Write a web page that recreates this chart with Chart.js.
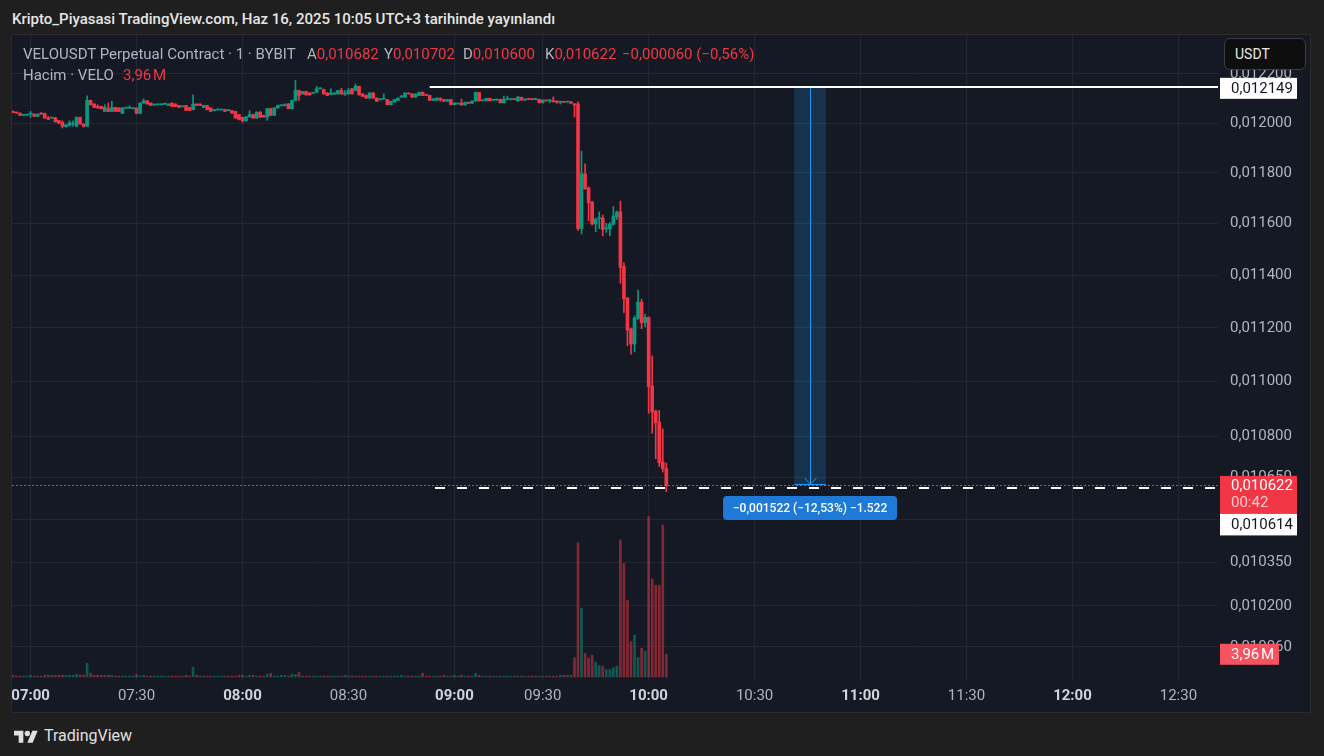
<!DOCTYPE html>
<html lang="tr">
<head>
<meta charset="utf-8">
<title>VELOUSDT Perpetual Contract</title>
<script src="https://cdn.jsdelivr.net/npm/chart.js@4/dist/chart.umd.min.js"></script>
<style>
  html, body { margin:0; padding:0; width:1324px; height:756px; overflow:hidden; background:#1f1f1f;
    font-family: Roboto, "Noto Sans", "Liberation Sans", sans-serif; }
  #title { position:absolute; left:12px; top:10px; font-size:15px; font-weight:500; color:#e6e6e6; line-height:18px; white-space:nowrap; }
  #frame { position:absolute; left:11px; top:34px; width:1298px; height:677px; border:1px solid #2c2c2c; background:#151924; }
  #cv { position:absolute; left:12px; top:35px; }
  .leg { position:absolute; font-size:15px; line-height:18px; white-space:nowrap; color:#b2b5be; }
  .red { color:#f23645; }
  #usdt { position:absolute; left:1224px; top:38px; width:82px; height:32px; box-sizing:border-box; border:1px solid #3a3d47;
    border-radius:6px; background:#0e0e0e; color:#e8e8e8; font-size:14px; line-height:30px; padding-left:10px; }
  #logo { position:absolute; left:14px; top:725px; height:20px; display:flex; align-items:center; color:#e0e0e0; font-size:16px; }
  #logo svg { margin-right:6px; }
</style>
</head>
<body>
<div id="title">Kripto_Piyasasi TradingView.com, Haz 16, 2025 10:05 UTC+3 tarihinde yayınlandı</div>
<div id="frame"></div>
<canvas id="cv" width="1298" height="677"></canvas>
<div class="leg" style="left:23px;top:45px">VELOUSDT Perpetual Contract · 1 · BYBIT</div>
<div class="leg" style="left:307px;top:45px">A<span class="red" id="lo"></span></div>
<div class="leg" style="left:384px;top:45px">Y<span class="red" id="lh"></span></div>
<div class="leg" style="left:463px;top:45px">D<span class="red" id="ll"></span></div>
<div class="leg" style="left:545px;top:45px">K<span class="red" id="lc"></span></div>
<div class="leg red" style="left:622px;top:45px" id="lchg"></div>
<div class="leg" style="left:23px;top:66px">Hacim · VELO</div>
<div class="leg red" style="left:123px;top:66px" id="lvol"></div>
<div id="usdt">USDT</div>
<div id="logo"><svg width="24" height="15" viewBox="0 0 36 22"><path fill="#e0e0e0" d="M14 22H7V11H0V4h14v18zM28 22h-8l7.5-18h8z"/><circle cx="20" cy="8" r="4" fill="#e0e0e0"/></svg>TradingView</div>
<script>
// ---- 1-minute candles, 06:55 .. 10:05 (bar index 0..185) ----
const open = [
0.012047,0.012044,0.012040,0.012031,0.012032,0.012036,0.012036,0.012027,0.012040,0.012038,
0.012020,0.012020,0.012021,0.012010,0.012003,0.011985,0.011990,0.011996,0.011987,0.012023,
0.011996,0.011987,0.012092,0.012077,0.012067,0.012067,0.012047,0.012058,0.012047,0.012063,
0.012061,0.012039,0.012060,0.012060,0.012058,0.012061,0.012039,0.012081,0.012090,0.012081,
0.012073,0.012074,0.012074,0.012076,0.012071,0.012081,0.012077,0.012071,0.012066,0.012071,
0.012063,0.012054,0.012077,0.012077,0.012063,0.012071,0.012061,0.012050,0.012053,0.012053,
0.012054,0.012050,0.012050,0.012047,0.012034,0.012023,0.012009,0.012025,0.012034,0.012020,
0.012044,0.012031,0.012024,0.012058,0.012031,0.012061,0.012070,0.012070,0.012078,0.012058,
0.012092,0.012132,0.012118,0.012128,0.012122,0.012121,0.012125,0.012139,0.012136,0.012122,
0.012116,0.012117,0.012118,0.012132,0.012117,0.012118,0.012139,0.012132,0.012149,0.012118,
0.012112,0.012101,0.012122,0.012101,0.012094,0.012097,0.012095,0.012074,0.012085,0.012092,
0.012105,0.012105,0.012121,0.012118,0.012105,0.012112,0.012125,0.012114,0.012112,0.012092,
0.012092,0.012101,0.012095,0.012088,0.012095,0.012074,0.012077,0.012080,0.012073,0.012084,
0.012080,0.012089,0.012124,0.012090,0.012090,0.012100,0.012092,0.012093,0.012096,0.012082,
0.012095,0.012095,0.012096,0.012090,0.012104,0.012093,0.012097,0.012096,0.012095,0.012096,
0.012082,0.012091,0.012089,0.012089,0.012089,0.012084,0.012085,0.012085,0.012086,0.012077,
0.012077,0.011581,0.011796,0.011741,0.011685,0.011599,0.011620,0.011622,0.011580,0.011580,
0.011597,0.011627,0.011646,0.011434,0.011313,0.011197,0.011140,0.011236,0.011298,0.011220,
0.011240,0.010983,0.010890,0.010851,0.010706,0.010682];
const high = [
0.012049,0.012045,0.012041,0.012033,0.012033,0.012047,0.012037,0.012037,0.012042,0.012040,
0.012027,0.012023,0.012023,0.012011,0.012009,0.011993,0.012009,0.012009,0.012025,0.012024,
0.011997,0.012110,0.012093,0.012078,0.012074,0.012068,0.012074,0.012081,0.012088,0.012064,
0.012062,0.012062,0.012062,0.012070,0.012060,0.012062,0.012082,0.012098,0.012091,0.012082,
0.012075,0.012075,0.012076,0.012078,0.012078,0.012082,0.012078,0.012072,0.012068,0.012072,
0.012064,0.012114,0.012078,0.012078,0.012072,0.012072,0.012062,0.012055,0.012055,0.012055,
0.012055,0.012055,0.012051,0.012048,0.012035,0.012024,0.012027,0.012050,0.012036,0.012045,
0.012046,0.012032,0.012059,0.012060,0.012063,0.012073,0.012073,0.012078,0.012079,0.012093,
0.012173,0.012134,0.012129,0.012130,0.012123,0.012123,0.012149,0.012143,0.012138,0.012123,
0.012139,0.012123,0.012133,0.012141,0.012132,0.012141,0.012141,0.012159,0.012150,0.012119,
0.012113,0.012123,0.012123,0.012102,0.012099,0.012118,0.012096,0.012089,0.012096,0.012102,
0.012112,0.012123,0.012122,0.012119,0.012119,0.012126,0.012126,0.012115,0.012113,0.012099,
0.012102,0.012102,0.012096,0.012096,0.012096,0.012083,0.012081,0.012097,0.012085,0.012085,
0.012090,0.012126,0.012125,0.012094,0.012101,0.012101,0.012094,0.012097,0.012097,0.012109,
0.012109,0.012097,0.012097,0.012107,0.012105,0.012098,0.012098,0.012097,0.012101,0.012097,
0.012094,0.012092,0.012096,0.012106,0.012090,0.012089,0.012086,0.012088,0.012087,0.012080,
0.012086,0.011887,0.011836,0.011745,0.011688,0.011622,0.011646,0.011634,0.011601,0.011605,
0.011667,0.011650,0.011689,0.011448,0.011316,0.011200,0.011245,0.011344,0.011309,0.011253,
0.011242,0.011095,0.010895,0.010894,0.010826,0.010702];
const low = [
0.012042,0.012040,0.012031,0.012030,0.012031,0.012023,0.012027,0.012026,0.012035,0.012019,
0.012014,0.012019,0.012004,0.011998,0.011980,0.011983,0.011988,0.011987,0.011985,0.011995,
0.011983,0.011985,0.012073,0.012062,0.012060,0.012057,0.012046,0.012046,0.012046,0.012046,
0.012046,0.012038,0.012059,0.012059,0.012057,0.012038,0.012038,0.012080,0.012076,0.012070,
0.012072,0.012073,0.012073,0.012075,0.012070,0.012066,0.012066,0.012062,0.012065,0.012050,
0.012050,0.012053,0.012070,0.012070,0.012062,0.012053,0.012046,0.012049,0.012052,0.012052,
0.012046,0.012049,0.012039,0.012019,0.012013,0.012003,0.012007,0.012023,0.012019,0.012018,
0.012022,0.012023,0.012011,0.012030,0.012030,0.012060,0.012069,0.012069,0.012057,0.012057,
0.012090,0.012092,0.012117,0.012113,0.012113,0.012120,0.012124,0.012138,0.012117,0.012111,
0.012115,0.012116,0.012117,0.012117,0.012112,0.012117,0.012117,0.012131,0.012113,0.012107,
0.012100,0.012100,0.012100,0.012087,0.012093,0.012096,0.012073,0.012073,0.012084,0.012091,
0.012104,0.012104,0.012117,0.012104,0.012104,0.012111,0.012111,0.012111,0.012091,0.012091,
0.012091,0.012088,0.012087,0.012087,0.012073,0.012073,0.012076,0.012072,0.012072,0.012079,
0.012079,0.012088,0.012089,0.012089,0.012089,0.012089,0.012091,0.012092,0.012081,0.012081,
0.012094,0.012094,0.012094,0.012089,0.012092,0.012092,0.012095,0.012094,0.012094,0.012081,
0.012081,0.012089,0.012082,0.012085,0.012080,0.012077,0.012083,0.012084,0.012079,0.012024,
0.011573,0.011560,0.011735,0.011612,0.011595,0.011569,0.011581,0.011553,0.011566,0.011553,
0.011595,0.011617,0.011370,0.011258,0.011133,0.011102,0.011110,0.011232,0.011197,0.011205,
0.010883,0.010810,0.010718,0.010690,0.010670,0.010600];
const close = [
0.012042,0.012040,0.012031,0.012032,0.012033,0.012037,0.012027,0.012036,0.012036,0.012020,
0.012015,0.012021,0.012005,0.011999,0.011987,0.011993,0.012000,0.011998,0.012023,0.011996,
0.011987,0.012092,0.012074,0.012063,0.012061,0.012058,0.012063,0.012047,0.012063,0.012047,
0.012047,0.012061,0.012061,0.012061,0.012059,0.012039,0.012081,0.012090,0.012077,0.012071,
0.012074,0.012075,0.012075,0.012077,0.012077,0.012067,0.012067,0.012063,0.012067,0.012051,
0.012051,0.012077,0.012071,0.012071,0.012071,0.012054,0.012047,0.012054,0.012054,0.012054,
0.012047,0.012054,0.012040,0.012020,0.012014,0.012009,0.012025,0.012034,0.012020,0.012044,
0.012024,0.012024,0.012058,0.012031,0.012061,0.012071,0.012071,0.012072,0.012058,0.012092,
0.012132,0.012112,0.012128,0.012114,0.012114,0.012122,0.012139,0.012141,0.012118,0.012112,
0.012122,0.012122,0.012132,0.012118,0.012122,0.012132,0.012118,0.012149,0.012114,0.012108,
0.012101,0.012122,0.012101,0.012088,0.012098,0.012098,0.012074,0.012088,0.012095,0.012101,
0.012109,0.012122,0.012118,0.012105,0.012118,0.012125,0.012112,0.012112,0.012092,0.012098,
0.012101,0.012095,0.012088,0.012095,0.012074,0.012081,0.012080,0.012073,0.012084,0.012080,
0.012089,0.012124,0.012090,0.012093,0.012100,0.012090,0.012093,0.012096,0.012082,0.012096,
0.012096,0.012096,0.012095,0.012106,0.012093,0.012097,0.012096,0.012095,0.012097,0.012082,
0.012093,0.012090,0.012090,0.012086,0.012084,0.012085,0.012084,0.012086,0.012080,0.012073,
0.011581,0.011796,0.011738,0.011682,0.011599,0.011617,0.011623,0.011578,0.011582,0.011599,
0.011630,0.011646,0.011431,0.011311,0.011192,0.011140,0.011238,0.011298,0.011220,0.011240,
0.010981,0.010888,0.010849,0.010704,0.010682,0.010622];
// volume in millions of VELO
const volume = [
0.3,0.15,0.15,0.15,0.15,0.3,0.15,0.15,0.15,0.3,
0.3,0.3,0.3,0.3,0.3,0.3,0.3,0.3,0.5,0.35,
0.35,2.4,0.64,0.3,0.3,0.3,0.3,0.3,0.3,0.15,
0.15,0.15,0.15,0.15,0.15,0.45,0.15,0.3,0.15,0.15,
0.15,0.15,0.15,0.15,0.15,0.15,0.15,0.15,0.15,0.3,
0.15,1.7,0.3,0.15,0.15,0.15,0.15,0.15,0.15,0.15,
0.15,0.15,0.15,0.15,0.3,0.3,0.15,0.3,0.3,0.15,
0.15,0.15,0.45,0.64,0.15,0.15,0.3,0.3,0.15,0.45,
0.45,0.8,0.15,0.15,0.15,0.15,0.15,0.15,0.15,0.15,
0.15,0.15,0.15,0.15,0.3,0.15,0.15,0.15,0.15,0.15,
0.15,0.15,0.15,0.15,0.15,0.15,0.15,0.15,0.15,0.15,
0.3,0.15,0.15,0.15,0.15,0.15,0.64,0.15,0.15,0.15,
0.15,0.15,0.3,0.15,0.15,0.3,0.15,0.3,0.15,0.15,
0.15,0.64,0.3,0.15,0.15,0.15,0.15,0.15,0.15,0.15,
0.15,0.15,0.15,0.15,0.15,0.15,0.15,0.15,0.15,0.15,
0.15,0.15,0.15,0.15,0.15,0.3,0.3,0.3,0.3,3.4,
23.4,12.0,4.1,3.3,3.8,2.6,2.0,1.9,1.3,1.3,
1.6,1.9,23.9,19.8,13.4,6.2,7.3,3.4,5.0,4.5,
28.0,17.1,16.0,16.0,26.5,3.96];

// time axis: bar index of each label (one-minute bars, five bars missing between 09:00 and 09:30)
const timeTickIndex  = [5, 35, 65, 95, 125, 150, 180, 210, 240, 270, 300, 330];
const timeTickLabels = ['07:00','07:30','08:00','08:30','09:00','09:30','10:00','10:30','11:00','11:30','12:00','12:30'];
// price axis tick values
const priceTicks = [0.0122, 0.012, 0.0118, 0.0116, 0.0114, 0.0112, 0.011, 0.0108, 0.01065, 0.0105, 0.01035, 0.0102, 0.01006];

// drawings on the chart
const hLineTop = 0.012149;
const hLineBottom = 0.010614;
const measureFrom = 0.012149;
const measureTo = 0.010627;
const measureText = '\u22120,001522 (\u221212,53%) \u22121.522';
const countdown = '00:42';

// ---- layout / style (not data) ----
const FONT = 'Roboto, "Noto Sans", sans-serif';
const GREEN = '#089981', RED = '#f23645';
const GRID = '#232734';
const view = { xMin: -0.267, xMax: 341.21, yMin: 0.0099453, yMax: 0.0123608, vMin: -0.7, vMax: 112 };
const draw = { topLineFrom: 118, bottomLineFrom: 119.5, measureBarFrom: 221.2, measureBarTo: 230.2 };

const fmt = v => v.toFixed(6).replace('.', ',');
const minus = s => s.replace('-', '\u2212');
const last = close.length - 1;
document.getElementById('lo').textContent = fmt(open[last]);
document.getElementById('lh').textContent = fmt(high[last]);
document.getElementById('ll').textContent = fmt(low[last]);
document.getElementById('lc').textContent = fmt(close[last]);
const chg = close[last] - close[last - 1];
document.getElementById('lchg').textContent =
  minus(fmt(chg)) + ' (' + minus((chg / close[last - 1] * 100).toFixed(2).replace('.', ',')) + '%)';
const volText = volume[last].toFixed(2).replace('.', ',') + '\u202fM';
document.getElementById('lvol').textContent = volText;

const isUp = close.map((c, i) => c >= open[i]);
const candleColors = isUp.map(u => u ? GREEN : RED);
const volColors = isUp.map(u => u ? 'rgba(8,153,129,0.5)' : 'rgba(242,54,69,0.5)');

function roundRect(ctx, x, y, w, h, r) {
  ctx.beginPath();
  ctx.moveTo(x + r, y); ctx.lineTo(x + w - r, y); ctx.quadraticCurveTo(x + w, y, x + w, y + r);
  ctx.lineTo(x + w, y + h - r); ctx.quadraticCurveTo(x + w, y + h, x + w - r, y + h);
  ctx.lineTo(x + r, y + h); ctx.quadraticCurveTo(x, y + h, x, y + h - r);
  ctx.lineTo(x, y + r); ctx.quadraticCurveTo(x, y, x + r, y);
  ctx.closePath();
}

const bgPlugin = {
  id: 'bg',
  beforeDraw(chart) {
    const c = chart.ctx; c.save(); c.fillStyle = '#151924'; c.fillRect(0, 0, chart.width, chart.height); c.restore();
  }
};

const drawingsPlugin = {
  id: 'drawings',
  afterDatasetsDraw(chart) {
    const { ctx, chartArea: a, scales: { x, y } } = chart;
    ctx.save();
    ctx.beginPath(); ctx.rect(a.left, a.top, a.right - a.left, a.bottom - a.top); ctx.clip();
    // measure box
    const mx1 = x.getPixelForValue(draw.measureBarFrom), mx2 = x.getPixelForValue(draw.measureBarTo);
    const my1 = y.getPixelForValue(measureFrom), my2 = y.getPixelForValue(measureTo);
    ctx.fillStyle = 'rgba(33,150,243,0.2)';
    ctx.fillRect(mx1, my1, mx2 - mx1, my2 - my1);
    ctx.strokeStyle = '#2196f3'; ctx.lineWidth = 1;
    const mc = Math.round((mx1 + mx2) / 2) + 0.5;
    ctx.beginPath(); ctx.moveTo(mc, my1); ctx.lineTo(mc, my2); ctx.stroke();
    ctx.beginPath(); ctx.moveTo(mc - 6, my2 - 6); ctx.lineTo(mc, my2); ctx.lineTo(mc + 6, my2 - 6); ctx.stroke();
    ctx.beginPath(); ctx.moveTo(mx1, Math.round(my2) + 0.5); ctx.lineTo(mx2, Math.round(my2) + 0.5); ctx.stroke();
    // last price dotted line
    const lp = Math.round(y.getPixelForValue(close[last])) + 0.5;
    ctx.strokeStyle = RED; ctx.setLineDash([2, 2]);
    ctx.beginPath(); ctx.moveTo(a.left, lp); ctx.lineTo(a.right, lp); ctx.stroke();
    // horizontal rays
    ctx.setLineDash([]); ctx.strokeStyle = '#ffffff'; ctx.lineWidth = 2;
    const t = Math.round(y.getPixelForValue(hLineTop)) + 1;
    ctx.beginPath(); ctx.moveTo(x.getPixelForValue(draw.topLineFrom), t); ctx.lineTo(a.right, t); ctx.stroke();
    const b = Math.round(y.getPixelForValue(hLineBottom));
    ctx.setLineDash([10, 12]);
    ctx.beginPath(); ctx.moveTo(x.getPixelForValue(draw.bottomLineFrom), b); ctx.lineTo(a.right, b); ctx.stroke();
    ctx.restore();
  },
  afterDraw(chart) {
    const { ctx, chartArea: a, scales: { x, y, v } } = chart;
    ctx.save();
    // measure label
    const mx = (x.getPixelForValue(draw.measureBarFrom) + x.getPixelForValue(draw.measureBarTo)) / 2;
    const my = y.getPixelForValue(measureTo);
    ctx.font = '500 12px ' + FONT;
    const bw = 174;
    ctx.fillStyle = '#1e7ad6';
    roundRect(ctx, mx - bw / 2, my + 12, bw, 24, 4); ctx.fill();
    ctx.fillStyle = '#ffffff'; ctx.textAlign = 'center'; ctx.textBaseline = 'middle';
    ctx.fillText(measureText, mx, my + 24.5);
    // axis labels
    ctx.textAlign = 'left';
    ctx.font = '15px ' + FONT;
    const bx = a.right + 2, bwid = 77, tx = a.right + 13;
    const ty = y.getPixelForValue(hLineTop) + 2;
    ctx.fillStyle = '#ffffff'; ctx.fillRect(bx, ty - 10.5, bwid, 21);
    ctx.fillStyle = '#131722'; ctx.fillText(fmt(hLineTop), tx, ty + 0.5);
    const lp = y.getPixelForValue(close[last]);
    ctx.fillStyle = RED; ctx.fillRect(bx, lp - 9.5, bwid, 38);
    ctx.fillStyle = '#ffffff'; ctx.fillText(fmt(close[last]), tx, lp + 0.5);
    ctx.fillStyle = 'rgba(255,255,255,0.75)'; ctx.fillText(countdown, tx, lp + 17.5);
    ctx.fillStyle = '#ffffff'; ctx.fillRect(bx, lp + 28.5, bwid, 21.5);
    ctx.fillStyle = '#131722'; ctx.fillText(fmt(hLineBottom), tx, lp + 39.5);
    const vy = v.getPixelForValue(volume[last]);
    ctx.fillStyle = '#f7525f'; ctx.fillRect(bx, vy - 10.5, 59, 21);
    ctx.fillStyle = '#ffffff'; ctx.fillText(volText, tx, vy + 0.5);
    ctx.restore();
  }
};

Chart.defaults.font.family = FONT;
new Chart(document.getElementById('cv'), {
  type: 'bar',
  data: {
    datasets: [
      { label: 'Hacim', yAxisID: 'v', order: 3, grouped: false, barThickness: 2,
        data: volume.map((val, i) => ({ x: i, y: val })), backgroundColor: volColors },
      { label: 'Fitil', yAxisID: 'y', order: 2, grouped: false, barThickness: 1,
        data: low.map((l, i) => ({ x: i, y: [l, high[i]] })), backgroundColor: candleColors },
      { label: 'Gövde', yAxisID: 'y', order: 1, grouped: false, barThickness: 3, minBarLength: 1,
        data: open.map((o, i) => ({ x: i, y: [Math.min(o, close[i]), Math.max(o, close[i])] })), backgroundColor: candleColors }
    ]
  },
  options: {
    responsive: false, animation: false, events: [],
    layout: { padding: 0 },
    plugins: { legend: { display: false }, tooltip: { enabled: false } },
    scales: {
      x: {
        type: 'linear', min: view.xMin, max: view.xMax, bounds: 'data', offset: false,
        grid: { offset: false, color: GRID, drawTicks: false }, border: { display: false },
        afterBuildTicks: s => { s.ticks = timeTickIndex.map(val => ({ value: val })); },
        afterFit: s => { s.height = 31; s.paddingLeft = 0; s.paddingRight = 0; },
        ticks: {
          autoSkip: false, maxRotation: 0, minRotation: 0, padding: 6,
          callback: (val, i) => timeTickLabels[i],
          color: c => timeTickLabels[c.index] && timeTickLabels[c.index].endsWith(':00') ? '#d1d4dc' : '#b2b5be',
          font: c => ({ family: FONT, size: 15, weight: timeTickLabels[c.index] && timeTickLabels[c.index].endsWith(':00') ? 'bold' : 'normal' })
        }
      },
      y: {
        type: 'logarithmic', position: 'right', min: view.yMin, max: view.yMax, bounds: 'data',
        grid: { color: GRID, drawTicks: false }, border: { display: false },
        afterBuildTicks: s => { s.ticks = priceTicks.map(val => ({ value: val })); },
        afterFit: s => { s.width = 92; s.paddingTop = 0; s.paddingBottom = 0; },
        ticks: { autoSkip: false, padding: 12, color: '#b2b5be', font: { family: FONT, size: 15 }, callback: val => fmt(val) }
      },
      v: { type: 'linear', display: false, min: view.vMin, max: view.vMax }
    }
  },
  plugins: [bgPlugin, drawingsPlugin]
});
</script>
</body>
</html>
